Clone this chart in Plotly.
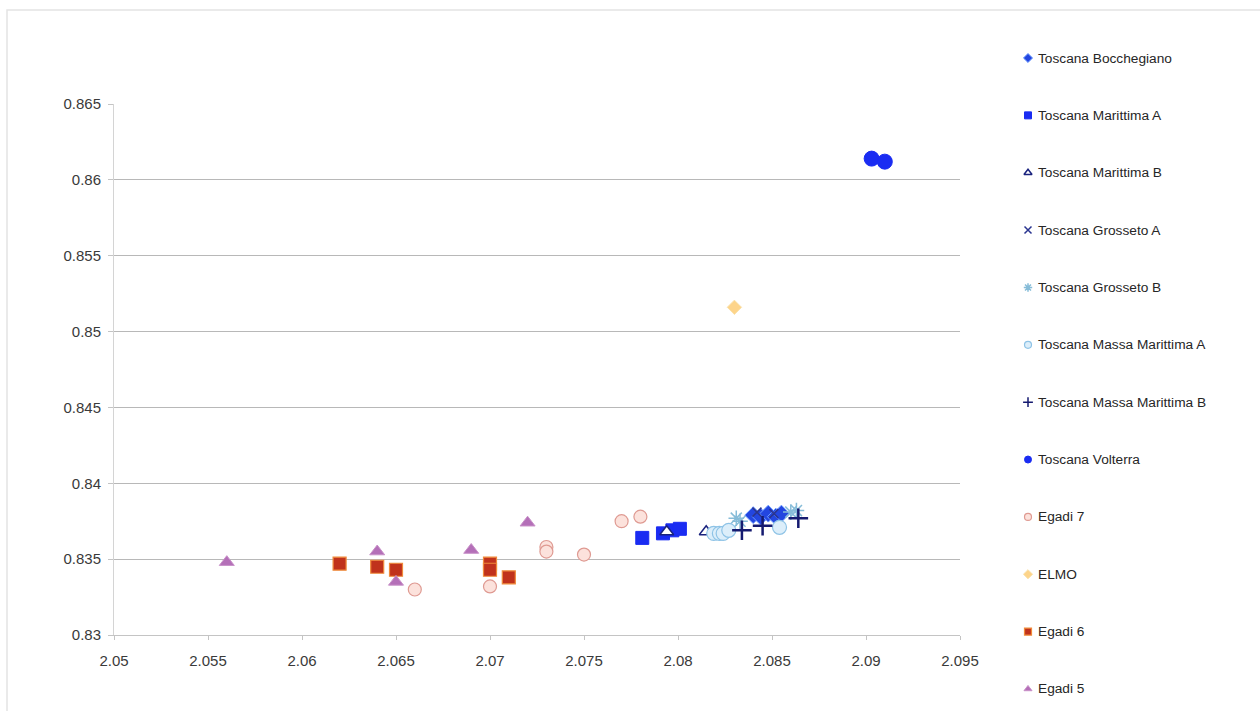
import plotly.graph_objects as go

W, H = 1260, 711

# ---- data -------------------------------------------------------------
bocchegiano_x = [2.0840, 2.0844, 2.0848, 2.0852, 2.0855]
bocchegiano_y = [0.8379, 0.8378, 0.8380, 0.8378, 0.8380]

marittima_a_x = [2.0781, 2.0792, 2.0797, 2.0801]
marittima_a_y = [0.8364, 0.8367, 0.8369, 0.8370]

marittima_b_x = [2.0794, 2.0815]
marittima_b_y = [0.8368, 0.8368]

grosseto_a_x = [2.0842, 2.0851]
grosseto_a_y = [0.8381, 0.8380]

grosseto_b_x = [2.0831, 2.0833, 2.0860, 2.0863]
grosseto_b_y = [0.8377, 0.8375, 0.8381, 0.8382]

massa_a_x = [2.0819, 2.0822, 2.0824, 2.0827, 2.0854]
massa_a_y = [0.8367, 0.8367, 0.8367, 0.8369, 0.8371]

massa_b_x = [2.0834, 2.0845, 2.0864]
massa_b_y = [0.8369, 0.8372, 0.8377]

volterra_x = [2.0903, 2.0910]
volterra_y = [0.8614, 0.8612]

egadi7_x = [2.066, 2.070, 2.073, 2.073, 2.075, 2.077, 2.078]
egadi7_y = [0.8330, 0.8332, 0.8358, 0.8355, 0.8353, 0.8375, 0.8378]

elmo_x = [2.083]
elmo_y = [0.8516]

egadi6_x = [2.062, 2.064, 2.065, 2.070, 2.070, 2.071]
egadi6_y = [0.8347, 0.8345, 0.8343, 0.8347, 0.8343, 0.8338]

egadi5_x = [2.056, 2.064, 2.065, 2.069, 2.072]
egadi5_y = [0.8348, 0.8355, 0.8335, 0.8356, 0.8374]

x_ticks = [2.05, 2.055, 2.06, 2.065, 2.07, 2.075, 2.08, 2.085, 2.09, 2.095]
x_tick_labels = ["2.05", "2.055", "2.06", "2.065", "2.07", "2.075", "2.08", "2.085", "2.09", "2.095"]
y_ticks = [0.83, 0.835, 0.84, 0.845, 0.85, 0.855, 0.86, 0.865]
y_tick_labels = ["0.83", "0.835", "0.84", "0.845", "0.85", "0.855", "0.86", "0.865"]

# ---- series styles ----------------------------------------------------
series = [
    ("Toscana Bocchegiano", bocchegiano_x, bocchegiano_y,
     dict(symbol="diamond", size=13, color="#2346e0", line=dict(color="#6f9cff", width=1))),
    ("Toscana Marittima A", marittima_a_x, marittima_a_y,
     dict(symbol="square", size=13, color="#1a2cf2", line=dict(color="#1a2cf2", width=1))),
    ("Toscana Marittima B", marittima_b_x, marittima_b_y,
     dict(symbol="triangle-up", size=12, color="#ffffff", line=dict(color="#1a237e", width=1.5))),
    ("Toscana Grosseto A", grosseto_a_x, grosseto_a_y,
     dict(symbol="x-thin", size=9, color="#2a3590", line=dict(color="#2a3590", width=1.5))),
    ("Toscana Grosseto B", grosseto_b_x, grosseto_b_y,
     dict(symbol="asterisk-open", size=13, color="#86bcd8", line=dict(color="#86bcd8", width=1.5))),
    ("Toscana Massa Marittima A", massa_a_x, massa_a_y,
     dict(symbol="circle", size=14, color="#dceefa", line=dict(color="#8ec3e6", width=1.2))),
    ("Toscana Massa Marittima B", massa_b_x, massa_b_y,
     dict(symbol="cross-thin", size=14, color="#151a70", line=dict(color="#151a70", width=2.5))),
    ("Toscana Volterra", volterra_x, volterra_y,
     dict(symbol="circle", size=15, color="#1a2cf2", line=dict(color="#1a2cf2", width=1))),
    ("Egadi 7", egadi7_x, egadi7_y,
     dict(symbol="circle", size=13, color="#fce2dc", line=dict(color="#df9a92", width=1.2))),
    ("ELMO", elmo_x, elmo_y,
     dict(symbol="diamond", size=11, color="#fdd48a", line=dict(color="#fbe1a8", width=1))),
    ("Egadi 6", egadi6_x, egadi6_y,
     dict(symbol="square", size=13, color="#c0321c", line=dict(color="#f08a3a", width=1.2))),
    ("Egadi 5", egadi5_x, egadi5_y,
     dict(symbol="triangle-up", size=13, color="#b46fb8", line=dict(color="#c890c8", width=1))),
]

FONT = "Liberation Sans, Arial, sans-serif"
TICK_FONT = dict(family=FONT, size=15, color="#3a3a3a")

fig = go.Figure()

for name, xs, ys, mk in series:
    fig.add_trace(go.Scatter(
        x=xs, y=ys, mode="markers", name=name, marker=mk,
        showlegend=False, xaxis="x", yaxis="y", cliponaxis=False,
    ))

# ---- key on the right, drawn on its own pixel-scaled axes ---------------
key_top, key_step = 58, 57.36
annotations = []
for i, (name, xs, ys, mk) in enumerate(series):
    small = dict(mk)
    small["size"] = 7
    if "line" in small:
        small["line"] = dict(small["line"])
        small["line"]["width"] = min(small["line"]["width"], 1.5)
    ky = key_top + i * key_step
    fig.add_trace(go.Scatter(
        x=[28], y=[ky], mode="markers", marker=small, showlegend=False,
        xaxis="x2", yaxis="y2", hoverinfo="skip", cliponaxis=False,
    ))
    annotations.append(dict(
        x=36, y=ky, xref="x2", yref="y2", text=name, showarrow=False,
        xanchor="left", yanchor="middle",
        font=dict(family=FONT, size=13.7, color="#262626"),
    ))

fig.update_layout(
    width=W, height=H, autosize=False,
    margin=dict(l=0, r=0, t=0, b=0, pad=0),
    paper_bgcolor="white", plot_bgcolor="white",
    font=dict(family=FONT, size=14, color="#333333"),
    showlegend=False,
    xaxis=dict(
        domain=[114 / W, 960 / W], anchor="y", automargin=False,
        range=[2.05, 2.095],
        tickvals=x_ticks, ticktext=x_tick_labels,
        showgrid=False, zeroline=False,
        showline=True, linecolor="#c4c4c4", linewidth=1,
        ticks="outside", ticklen=4, tickcolor="#c4c4c4",
        ticklabelstandoff=8,
        tickfont=TICK_FONT,
    ),
    yaxis=dict(
        domain=[(H - 635) / H, (H - 104) / H], anchor="x", automargin=False,
        range=[0.8299999, 0.8650001],
        tickvals=y_ticks, ticktext=y_tick_labels,
        showgrid=True, gridcolor="#b8b8b8", gridwidth=1,
        zeroline=False,
        showline=True, linecolor="#d4d4d4", linewidth=1,
        ticks="outside", ticklen=5, tickcolor="#c4c4c4",
        ticklabelstandoff=4,
        tickfont=TICK_FONT,
    ),
    xaxis2=dict(domain=[1000 / W, 1.0], anchor="y2", range=[0, 260],
                visible=False, fixedrange=True, automargin=False),
    yaxis2=dict(domain=[0.0, 1.0], anchor="x2", range=[H, 0],
                visible=False, fixedrange=True, automargin=False),
    annotations=annotations,
    shapes=[dict(
        type="rect", xref="paper", yref="paper",
        x0=7 / W, x1=1.01, y0=-0.01, y1=1 - 10 / H,
        line=dict(color="#e4e4e4", width=1.5), fillcolor="rgba(0,0,0,0)",
        layer="below",
    )],
)

# page body without default spacing so the figure sits at the window origin
page_css = (
    "document.body.style.margin='0';"
    "document.body.style.overflow='hidden';"
)

fig.write_html("out.html", config={"responsive": False, "displayModeBar": False},
               post_script=page_css)
